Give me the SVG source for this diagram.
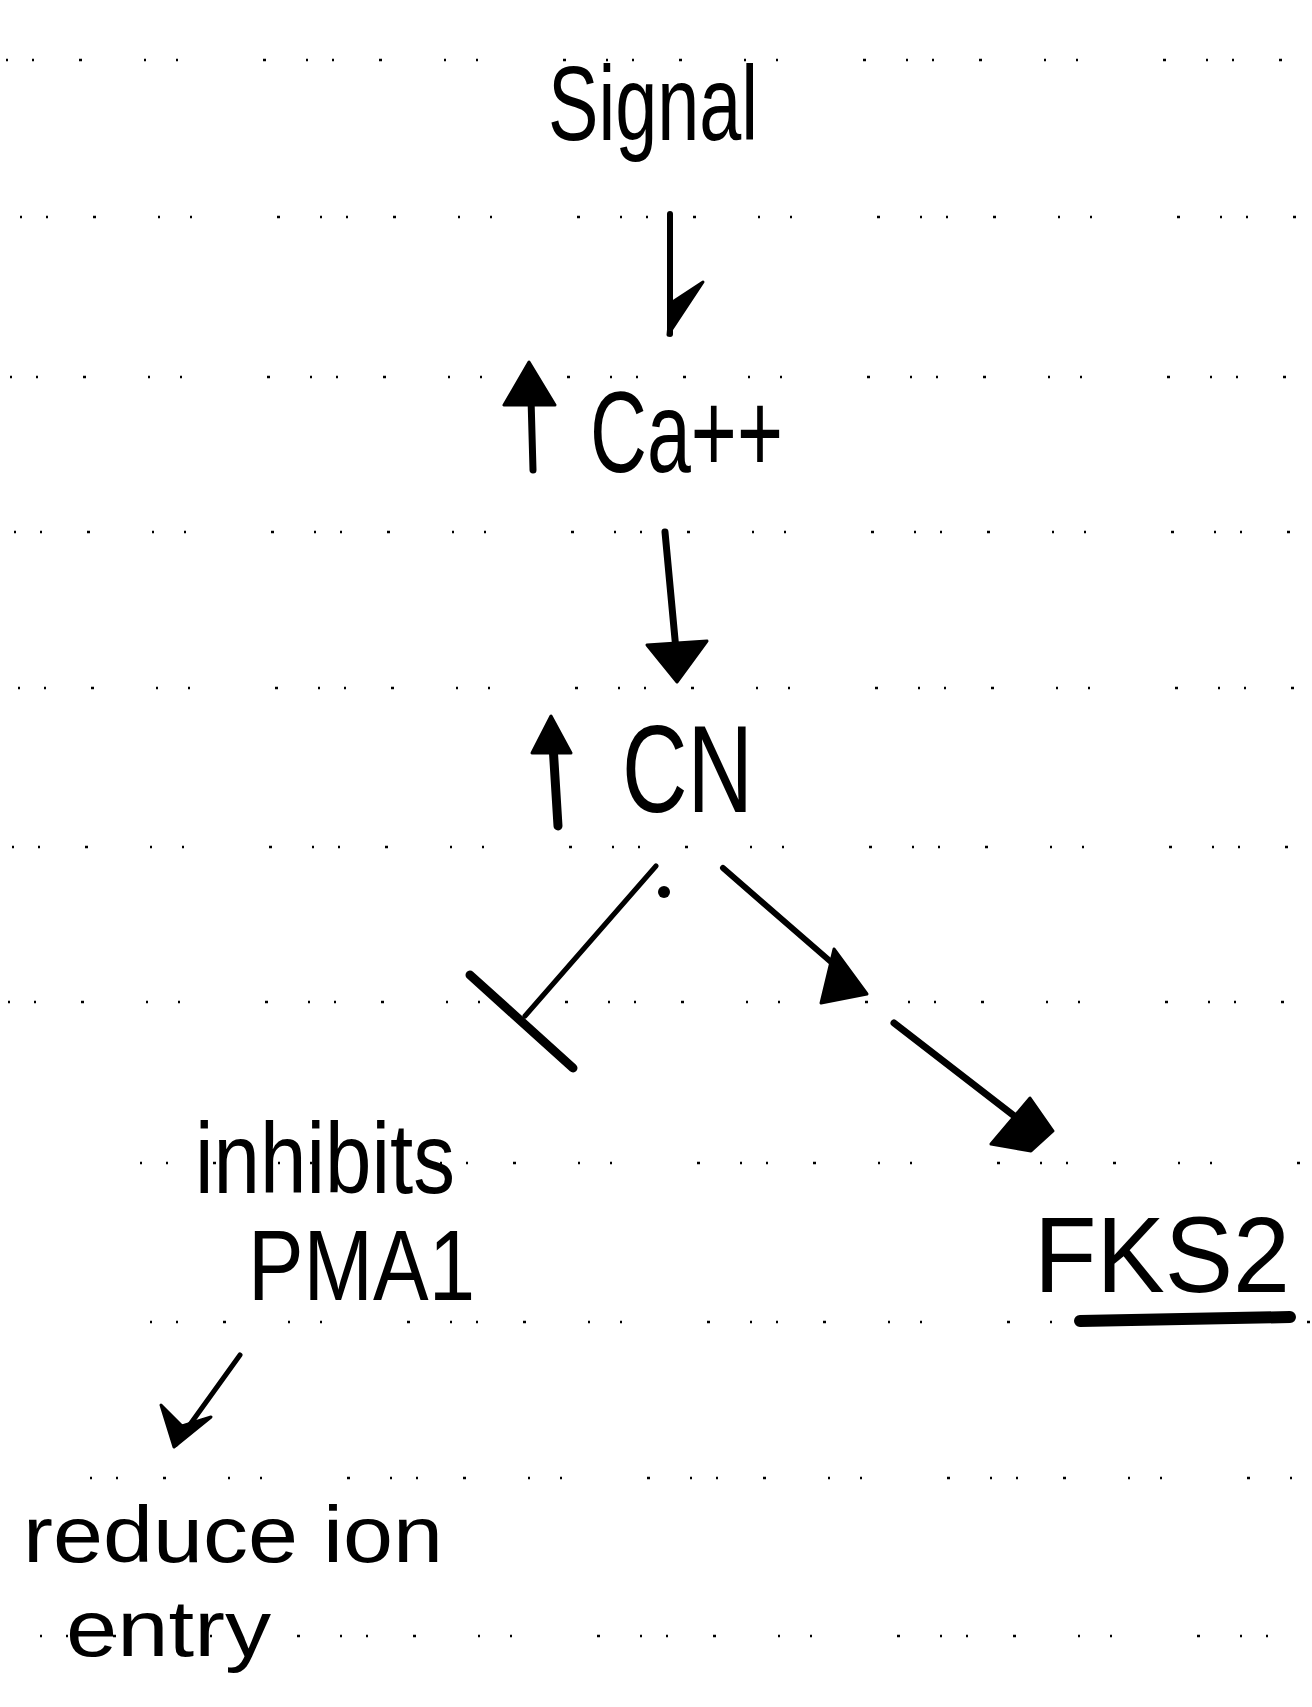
<svg xmlns="http://www.w3.org/2000/svg" width="1312" height="1707" viewBox="0 0 1312 1707">
<style>
.t{font-family:"Liberation Sans",Arial,sans-serif;fill:#000;}
.ln{stroke:#000;fill:none;stroke-linecap:round;stroke-linejoin:round;}
.hd{fill:#000;stroke:#000;stroke-width:3;stroke-linejoin:round;}
.rule{stroke:#000;stroke-width:2.5;fill:none;stroke-dasharray:2 24 2 45 3 62 2 30 2 85 3 40;}
</style>
<rect width="1312" height="1707" fill="#fff"/>
<g id="rules">
<line class="rule" x1="6" y1="60" x2="1312" y2="60"/>
<line class="rule" x1="20" y1="217" x2="1312" y2="217"/>
<line class="rule" x1="10" y1="377" x2="1312" y2="377"/>
<line class="rule" x1="14" y1="532" x2="1312" y2="532"/>
<line class="rule" x1="18" y1="688" x2="1312" y2="688"/>
<line class="rule" x1="12" y1="847" x2="1312" y2="847"/>
<line class="rule" x1="8" y1="1002" x2="1312" y2="1002"/>
<line class="rule" x1="140" y1="1163" x2="1312" y2="1163"/>
<line class="rule" x1="150" y1="1322" x2="1312" y2="1322"/>
<line class="rule" x1="90" y1="1478" x2="1312" y2="1478"/>
<line class="rule" x1="40" y1="1636" x2="1312" y2="1636"/>
</g>
<g id="node-signal">
<text class="t" x="548" y="140" font-size="105" textLength="210" lengthAdjust="spacingAndGlyphs">Signal</text>
</g>
<g id="node-ca">
<line class="ln" x1="531" y1="398" x2="533" y2="470" stroke-width="7"/>
<polygon class="hd" points="504,405 555,405 529,362"/>
<text class="t" x="590" y="472" font-size="115" textLength="193" lengthAdjust="spacingAndGlyphs">Ca++</text>
</g>
<g id="node-cn">
<line class="ln" x1="553" y1="745" x2="558" y2="826" stroke-width="9"/>
<polygon class="hd" points="532,753 571,753 551,716"/>
<text class="t" x="622" y="812" font-size="125" textLength="131" lengthAdjust="spacingAndGlyphs">CN</text>
</g>
<g id="node-pma1">
<text class="t" x="195" y="1193" font-size="100" textLength="260" lengthAdjust="spacingAndGlyphs">inhibits</text>
<text class="t" x="248" y="1300" font-size="100" textLength="227" lengthAdjust="spacingAndGlyphs">PMA1</text>
</g>
<g id="node-fks2">
<text class="t" x="1034" y="1292" font-size="108" textLength="256" lengthAdjust="spacingAndGlyphs">FKS2</text>
<line class="ln" x1="1080" y1="1321" x2="1290" y2="1317" stroke-width="12"/>
</g>
<g id="node-reduce">
<text class="t" x="23" y="1562" font-size="80" textLength="420" lengthAdjust="spacingAndGlyphs">reduce ion</text>
<text class="t" x="66" y="1656" font-size="80" textLength="205" lengthAdjust="spacingAndGlyphs">entry</text>
</g>
<g id="connectors">
<path class="ln" d="M670,214 L670,334" stroke-width="6"/>
<polygon class="hd" points="668,335 671,303 703,282"/>
<line class="ln" x1="665" y1="532" x2="676" y2="650" stroke-width="7"/>
<polygon class="hd" points="647,645 707,641 677,682"/>
<line class="ln" x1="656" y1="866" x2="525" y2="1016" stroke-width="5"/>
<circle cx="664" cy="892" r="6" fill="#000"/>
<line class="ln" x1="470" y1="975" x2="573" y2="1068" stroke-width="9"/>
<line class="ln" x1="723" y1="868" x2="838" y2="968" stroke-width="6"/>
<polygon class="hd" points="834,949 867,994 821,1003"/>
<line class="ln" x1="894" y1="1023" x2="1022" y2="1122" stroke-width="7"/>
<polygon class="hd" points="991,1144 1030,1098 1053,1131 1031,1151"/>
<line class="ln" x1="240" y1="1355" x2="176" y2="1444" stroke-width="5"/>
<polygon class="hd" points="161,1405 174,1447 211,1417 182,1426"/>
</g>
</svg>
